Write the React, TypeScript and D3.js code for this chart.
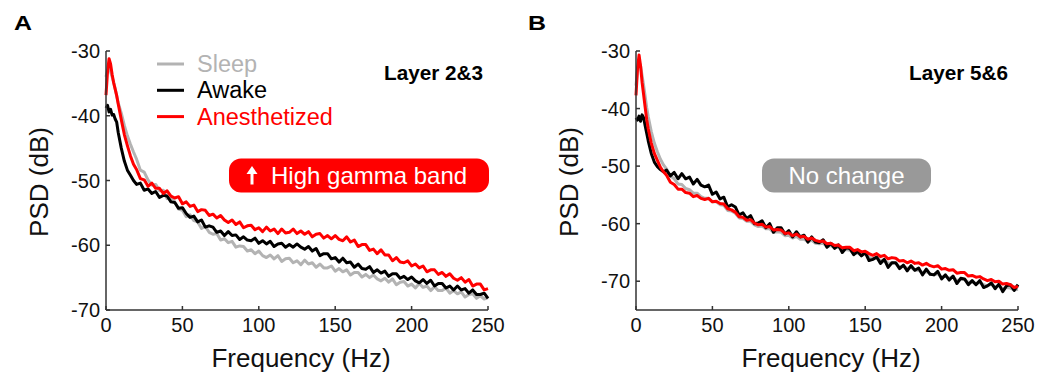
import React from 'react';
import * as d3 from 'd3';

const FREQ = [
  0, 1, 2, 3, 4, 5, 6, 7, 8, 10, 12, 14, 16, 18,
  20, 22.5, 25, 27.5, 30, 32.5, 35, 37.5, 40, 42.5,
  45, 47.5, 50, 52.5, 55, 57.5, 60, 62.5, 65, 67.5,
  70, 72.5, 75, 77.5, 80, 82.5, 85, 87.5, 90, 92.5,
  95, 97.5, 100, 102.5, 105, 107.5, 110, 112.5, 115, 117.5,
  120, 122.5, 125, 127.5, 130, 132.5, 135, 137.5, 140, 142.5,
  145, 147.5, 150, 152.5, 155, 157.5, 160, 162.5, 165, 167.5,
  170, 172.5, 175, 177.5, 180, 182.5, 185, 187.5, 190, 192.5,
  195, 197.5, 200, 202.5, 205, 207.5, 210, 212.5, 215, 217.5,
  220, 222.5, 225, 227.5, 230, 232.5, 235, 237.5, 240, 242.5,
  245, 247.5, 250,
];

// Panel A — Layer 2&3
const A_SLEEP = [
  -34.0, -33.0, -32.6, -33.2, -34.0, -34.8, -35.8, -36.9, -38.0, -39.6, -41.5, -43.1, -44.4, -45.6,
  -46.7, -48.4, -48.7, -49.9, -50.7, -50.6, -51.6, -51.5, -52.8, -52.7,
  -53.3, -54.4, -54.6, -55.6, -55.3, -56.2, -56.4, -57.4, -57.1, -58.0,
  -58.3, -58.2, -59.2, -59.0, -59.6, -59.4, -60.3, -60.1, -60.2, -60.9,
  -60.7, -61.3, -60.9, -61.6, -61.9, -61.5, -62.1, -61.6, -62.5, -62.1,
  -62.0, -62.7, -62.4, -63.0, -62.3, -62.9, -62.7, -63.4, -62.9, -63.5,
  -63.5, -63.2, -64.0, -63.6, -64.1, -63.8, -64.6, -64.2, -64.2, -64.9,
  -64.5, -65.0, -64.6, -65.2, -65.5, -65.1, -65.7, -65.2, -66.1, -65.7,
  -65.6, -66.3, -66.0, -66.6, -65.9, -66.5, -66.3, -67.0, -66.4, -67.0,
  -67.0, -66.6, -67.4, -67.0, -67.5, -67.2, -68.0, -67.6, -67.5, -68.2,
  -67.8, -68.3, -68.1,
];
const A_AWAKE = [
  -38.8, -38.4, -39.4, -39.0, -39.9, -39.8, -40.5, -41.0, -42.6, -45.0, -47.0, -48.4, -49.2, -50.0,
  -50.6, -50.4, -51.5, -51.3, -52.0, -51.7, -52.6, -52.3, -52.4, -53.3,
  -53.4, -54.3, -54.2, -55.1, -55.7, -55.5, -56.4, -56.1, -57.2, -57.0,
  -57.2, -58.0, -57.8, -58.5, -57.9, -58.5, -58.4, -59.1, -58.7, -59.2,
  -59.3, -58.9, -59.7, -59.3, -59.8, -59.4, -60.2, -59.8, -59.7, -60.3,
  -59.9, -60.3, -59.8, -60.3, -60.6, -60.2, -60.9, -60.5, -61.6, -61.3,
  -61.3, -62.1, -61.9, -62.6, -62.0, -62.7, -62.6, -63.4, -62.9, -63.6,
  -63.7, -63.3, -64.2, -63.8, -64.3, -64.0, -64.8, -64.4, -64.4, -65.1,
  -64.8, -65.3, -64.9, -65.5, -65.8, -65.3, -65.9, -65.4, -66.3, -65.9,
  -65.9, -66.6, -66.3, -66.9, -66.3, -66.9, -66.7, -67.4, -66.9, -67.6,
  -67.6, -67.4, -68.2,
];
const A_ANES = [
  -36.8, -33.2, -31.2, -32.0, -33.6, -34.9, -35.9, -36.9, -38.2, -40.6, -42.9, -44.6, -46.2, -47.5,
  -48.3, -49.7, -49.9, -50.9, -50.4, -51.2, -51.2, -52.0, -51.6, -52.4,
  -52.7, -52.5, -53.6, -53.3, -54.0, -53.8, -54.8, -54.5, -54.6, -55.4,
  -55.2, -55.8, -55.4, -56.1, -56.5, -56.1, -56.8, -56.4, -57.3, -57.0,
  -56.9, -57.6, -57.3, -57.9, -57.2, -57.8, -57.5, -58.2, -57.5, -58.1,
  -58.0, -57.5, -58.2, -57.8, -58.3, -57.9, -58.7, -58.3, -58.2, -58.9,
  -58.5, -59.0, -58.5, -59.1, -59.3, -58.7, -59.5, -59.2, -60.2, -59.9,
  -59.9, -60.8, -60.6, -61.3, -60.7, -61.5, -61.5, -62.4, -61.9, -62.6,
  -62.7, -62.4, -63.2, -62.9, -63.5, -63.2, -64.1, -63.8, -63.8, -64.5,
  -64.2, -64.8, -64.4, -65.1, -65.4, -65.0, -65.7, -65.3, -66.3, -66.0,
  -66.0, -66.9, -66.7,
];

// Panel B — Layer 5&6
const B_SLEEP = [
  -36.0, -33.2, -31.8, -32.6, -34.3, -36.0, -37.9, -39.8, -41.4, -44.0, -46.0, -47.5, -48.8, -49.8,
  -50.5, -51.7, -52.2, -53.1, -53.2, -53.9, -54.1, -54.7, -54.7, -55.3,
  -55.6, -55.6, -56.2, -56.2, -56.7, -56.8, -57.7, -57.8, -58.2, -59.0,
  -59.1, -59.6, -59.6, -60.2, -60.5, -60.4, -60.9, -60.9, -61.5, -61.4,
  -61.5, -62.1, -62.0, -62.5, -62.2, -62.7, -62.7, -63.1, -62.9, -63.4,
  -63.5, -63.4, -64.0, -63.8, -64.2, -64.1, -64.6, -64.5, -64.6, -65.2,
  -65.1, -65.5, -65.3, -65.8, -66.1, -65.9, -66.4, -66.3, -66.9, -66.8,
  -66.9, -67.5, -67.4, -67.8, -67.6, -68.1, -68.1, -68.5, -68.3, -68.7,
  -68.9, -68.7, -69.3, -69.1, -69.5, -69.3, -69.9, -69.7, -69.7, -70.2,
  -70.1, -70.4, -70.2, -70.6, -70.8, -70.5, -71.0, -70.8, -71.3, -71.1,
  -71.2, -71.5, -71.4,
];
const B_AWAKE = [
  -41.6, -42.0, -41.3, -42.2, -41.1, -41.6, -43.0, -44.3, -45.6, -47.8, -49.3, -50.1, -50.6, -51.0,
  -50.7, -51.7, -51.1, -52.2, -51.3, -52.2, -51.9, -53.1, -52.3, -53.3,
  -53.6, -53.3, -54.9, -54.5, -55.7, -55.4, -57.1, -56.7, -57.1, -58.5,
  -58.1, -59.1, -58.6, -60.0, -59.9, -59.5, -60.7, -60.0, -61.5, -60.7,
  -60.7, -61.8, -61.2, -62.3, -61.4, -62.3, -62.0, -63.2, -62.3, -63.2,
  -63.3, -62.8, -64.1, -63.4, -64.3, -63.7, -65.0, -64.2, -64.3, -65.4,
  -64.8, -65.6, -65.0, -66.4, -66.2, -65.8, -66.9, -66.2, -67.6, -66.8,
  -66.8, -67.8, -67.2, -68.2, -67.3, -68.1, -67.7, -68.9, -67.9, -68.8,
  -68.9, -68.3, -69.6, -68.9, -69.8, -69.1, -70.4, -69.5, -69.6, -70.6,
  -69.9, -70.6, -69.9, -71.1, -70.8, -70.3, -71.3, -70.5, -71.8, -70.8,
  -70.6, -71.6, -70.6,
];
const B_ANES = [
  -37.7, -33.0, -30.7, -32.6, -35.5, -37.6, -39.8, -41.9, -43.5, -46.0, -47.8, -49.0, -50.2, -51.0,
  -51.6, -52.8, -53.2, -54.0, -54.0, -54.6, -54.7, -55.3, -55.1, -55.6,
  -55.8, -55.6, -56.2, -56.1, -56.5, -56.6, -57.4, -57.6, -58.0, -58.8,
  -58.9, -59.4, -59.3, -59.9, -60.2, -60.1, -60.6, -60.5, -61.1, -61.0,
  -61.1, -61.7, -61.6, -62.1, -61.8, -62.3, -62.2, -62.7, -62.5, -62.9,
  -63.1, -63.0, -63.5, -63.4, -63.8, -63.7, -64.2, -64.1, -64.1, -64.7,
  -64.5, -64.9, -64.8, -65.2, -65.5, -65.2, -65.7, -65.5, -66.1, -65.9,
  -66.0, -66.5, -66.4, -66.8, -66.5, -66.9, -66.8, -67.2, -66.9, -67.3,
  -67.5, -67.3, -67.9, -67.8, -68.1, -68.0, -68.6, -68.5, -68.5, -69.1,
  -69.0, -69.3, -69.2, -69.6, -69.9, -69.7, -70.1, -70.0, -70.5, -70.4,
  -70.6, -71.1, -70.9,
];

const X_TICKS = [0, 50, 100, 150, 200, 250];
const Y_TICKS = [-30, -40, -50, -60, -70];
const LEGEND_LABELS = ['Sleep', 'Awake', 'Anesthetized'];
const SERIES_COLORS = ['#b3b3b3', '#000000', '#ff0000'];

const FONT = 'Liberation Sans, Arial, Helvetica, sans-serif';
const PLOT_W = 382;
const Y_TOP = 51;
const Y_BOT = 310;

type PanelProps = {
  left: number;
  yDomain: [number, number];
  series: number[][];
  letter: string;
  letterX: number;
  layer: string;
  layerX: number;
  badge: { text: string; fill: string; x: number; w: number; arrow: boolean };
  legend: boolean;
};

function Panel({ left, yDomain, series, letter, letterX, layer, layerX, badge, legend }: PanelProps) {
  const x = d3.scaleLinear().domain([0, 250]).range([left, left + PLOT_W]);
  const y = d3.scaleLinear().domain(yDomain).range([Y_BOT, Y_TOP]);
  const line = d3
    .line<number>()
    .x((_, i) => x(FREQ[i]))
    .y((d) => y(d))
    .curve(d3.curveLinear);
  const axisColor = '#333';
  return (
    <g>
      <text
        x={letterX}
        y={30}
        fontFamily={FONT}
        fontWeight="bold"
        fontSize={21}
        textLength={18}
        lengthAdjust="spacingAndGlyphs"
      >
        {letter}
      </text>
      {series.map((s, i) => (
        <path
          key={i}
          d={line(s.slice(0, FREQ.length)) || ''}
          fill="none"
          stroke={SERIES_COLORS[i]}
          strokeWidth={3}
          strokeLinejoin="round"
        />
      ))}
      <line x1={left} x2={left} y1={Y_TOP} y2={Y_BOT} stroke={axisColor} strokeWidth={1.5} />
      <line x1={left} x2={left + PLOT_W} y1={Y_BOT} y2={Y_BOT} stroke={axisColor} strokeWidth={1.5} />
      {Y_TICKS.map((t) => (
        <g key={t}>
          <line x1={left} x2={left + 4} y1={y(t)} y2={y(t)} stroke={axisColor} strokeWidth={1.5} />
          <text
            x={left - 6}
            y={y(t)}
            dy="0.36em"
            textAnchor="end"
            fontFamily={FONT}
            fontSize={20}
            fill="#111"
          >
            {t}
          </text>
        </g>
      ))}
      {X_TICKS.map((t) => (
        <g key={t}>
          <line x1={x(t)} x2={x(t)} y1={Y_BOT} y2={Y_BOT - 4} stroke={axisColor} strokeWidth={1.5} />
          <text x={x(t)} y={332} textAnchor="middle" fontFamily={FONT} fontSize={20} fill="#111">
            {t}
          </text>
        </g>
      ))}
      <text
        x={left + PLOT_W / 2 + 4}
        y={367}
        textAnchor="middle"
        fontFamily={FONT}
        fontSize={26}
        fill="#111"
      >
        Frequency (Hz)
      </text>
      <text
        transform={`translate(${left - 58},182) rotate(-90)`}
        textAnchor="middle"
        fontFamily={FONT}
        fontSize={26}
        fill="#111"
      >
        PSD (dB)
      </text>
      <text
        x={layerX}
        y={80}
        fontFamily={FONT}
        fontWeight="bold"
        fontSize={21}
        textLength={99}
        lengthAdjust="spacingAndGlyphs"
        fill="#000"
      >
        {layer}
      </text>
      {legend &&
        LEGEND_LABELS.map((lab, i) => (
          <g key={lab}>
            <line
              x1={left + 51}
              x2={left + 78}
              y1={64 + i * 26.3}
              y2={64 + i * 26.3}
              stroke={SERIES_COLORS[i]}
              strokeWidth={3}
            />
            <text
              x={left + 91}
              y={72 + i * 26.3}
              fontFamily={FONT}
              fontSize={23.5}
              fill={SERIES_COLORS[i]}
            >
              {lab}
            </text>
          </g>
        ))}
      <rect x={badge.x} y={158.5} width={badge.w} height={34} rx={12} ry={12} fill={badge.fill} />
      {badge.arrow && (
        <g fill="#fff" stroke="none">
          <polygon points={`${badge.x + 23},166 ${badge.x + 17.5},174 ${badge.x + 28.5},174`} />
          <rect x={badge.x + 21.5} y={172} width={3} height={12.5} />
        </g>
      )}
      <text
        x={badge.arrow ? badge.x + 42 : badge.x + badge.w / 2}
        y={183.5}
        textAnchor={badge.arrow ? 'start' : 'middle'}
        fontFamily={FONT}
        fontSize={24}
        fill="#fff"
      >
        {badge.text}
      </text>
    </g>
  );
}

export default function App() {
  return (
    <div style={{ position: 'absolute', left: 0, top: 0 }}>
      <svg width={1054} height={377} viewBox="0 0 1054 377" style={{ display: 'block', background: '#fff' }}>
        <Panel
          left={106}
          yDomain={[-70, -30]}
          series={[A_SLEEP, A_AWAKE, A_ANES]}
          letter="A"
          letterX={14}
          layer="Layer 2&3"
          layerX={384}
          badge={{ text: 'High gamma band', fill: '#ff0000', x: 229, w: 260, arrow: true }}
          legend={true}
        />
        <Panel
          left={636}
          yDomain={[-75, -30]}
          series={[B_SLEEP, B_AWAKE, B_ANES]}
          letter="B"
          letterX={528}
          layer="Layer 5&6"
          layerX={909}
          badge={{ text: 'No change', fill: '#999999', x: 762, w: 169, arrow: false }}
          legend={false}
        />
      </svg>
    </div>
  );
}
